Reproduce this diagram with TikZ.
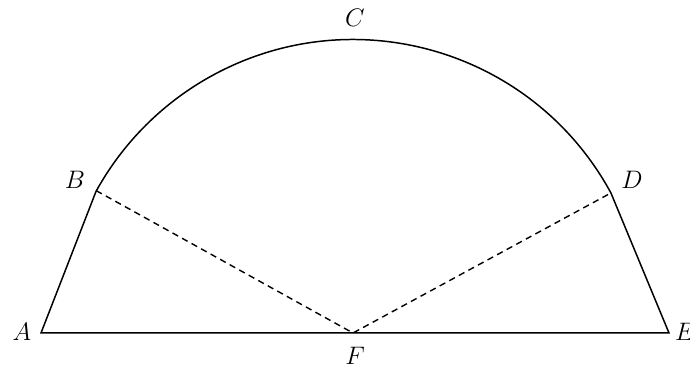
\documentclass[tikz,border=0pt]{standalone}
\usetikzlibrary{calc}
\begin{document}
\begin{tikzpicture}[x=0.02cm,y=0.02cm,
  edge/.style={line width=0.85pt,line join=miter},
  dashline/.style={line width=0.8pt,dash pattern=on 3.6pt off 2.6pt},
  lbl/.style={font=\fontsize{15}{18}\selectfont,inner sep=0pt}]
\useasboundingbox (0,0) rectangle (690,371);
\coordinate (F) at (353,38);
\coordinate (A) at (41,38);
\coordinate (E) at (669,38);
\coordinate (B) at ($(F)+(151:293.5)$);
\coordinate (D) at ($(F)+(28.5:293.5)$);
\coordinate (C) at ($(F)+(90:293.5)$);
\draw[edge] (B) -- (A) -- (E) -- (D) arc[start angle=28.5,end angle=151,radius=5.87cm];
\draw[dashline] (B) -- (F) -- (D);
\node[lbl] (lA) at (22,39) {$A$};
\node[lbl] (lB) at (75,191) {$B$};
\node[lbl] (lC) at (355,353) {$C$};
\node[lbl] (lD) at (632,191) {$D$};
\node[lbl] (lE) at (685,39) {$E$};
\node[lbl] (lF) at (355,15) {$F$};
\end{tikzpicture}
\end{document}
